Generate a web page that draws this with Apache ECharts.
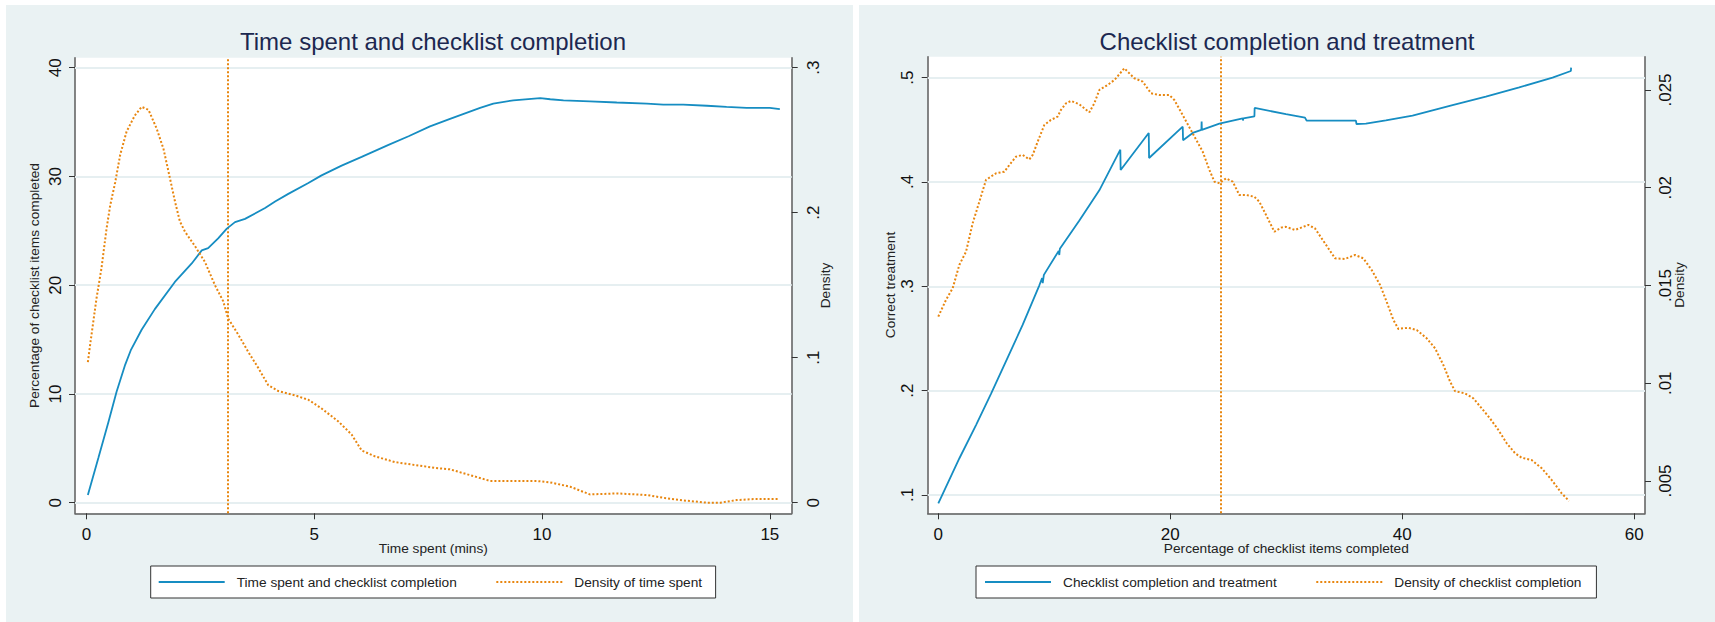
<!DOCTYPE html>
<html>
<head>
<meta charset="utf-8">
<script src="https://cdn.jsdelivr.net/npm/echarts@6.0.0/dist/echarts.min.js"></script>
<style>
html,body{margin:0;padding:0;background:#fff;}
#c{width:1715px;height:622px;}
</style>
</head>
<body>
<div id="c"></div>
<script>
// ---------- Data ----------
const leftTitle = 'Time spent and checklist completion';
const rightTitle = 'Checklist completion and treatment';
const leftXName = 'Time spent (mins)';
const leftYName = 'Percentage of checklist items completed';
const leftY2Name = 'Density';
const rightXName = 'Percentage of checklist items completed';
const rightYName = 'Correct treatment';
const rightY2Name = 'Density';
const seriesNames = ['Time spent and checklist completion', 'Density of time spent',
                     'Checklist completion and treatment', 'Density of checklist completion'];

// Left panel: time spent vs checklist completion (%)
const timeX = [0.03,0.26,0.48,0.66,0.85,0.97,1.21,1.50,1.94,2.31,2.53,2.67,2.89,3.08,3.26,3.48,3.92,4.14,4.43,4.87,5.16,5.60,6.04,6.63,7.07,7.54,7.98,8.64,8.93,9.37,9.96,10.18,10.47,11.05,11.64,12.30,12.66,13.10,13.62,14.05,14.49,15.0,15.22];
const completionPct = [0.7,4.1,7.4,10.2,12.7,14.0,15.9,17.8,20.3,22.0,23.2,23.4,24.3,25.2,25.8,26.1,27.1,27.7,28.4,29.4,30.1,31.0,31.8,32.9,33.7,34.6,35.3,36.3,36.7,37.0,37.2,37.1,37.0,36.9,36.8,36.7,36.6,36.6,36.5,36.4,36.3,36.3,36.2];
// Left panel: density of time spent
const densTimeX = [0.03,0.08,0.15,0.22,0.33,0.44,0.52,0.63,0.74,0.88,1.06,1.21,1.36,1.54,1.69,1.83,1.94,2.05,2.16,2.38,2.60,2.82,3.00,3.11,3.33,3.55,3.77,3.99,4.21,4.58,4.87,5.16,5.53,5.82,6.04,6.33,6.77,7.21,7.65,7.98,8.42,8.86,9.37,9.88,10.18,10.62,11.05,11.64,12.30,12.66,13.10,13.62,13.91,14.27,14.64,15.19];
const densTimeY = [0.097,0.109,0.125,0.141,0.162,0.189,0.205,0.221,0.240,0.256,0.267,0.273,0.271,0.258,0.244,0.224,0.208,0.194,0.187,0.177,0.166,0.150,0.139,0.127,0.116,0.104,0.093,0.081,0.077,0.074,0.071,0.065,0.056,0.047,0.036,0.032,0.028,0.026,0.024,0.023,0.019,0.015,0.015,0.015,0.014,0.011,0.0057,0.0064,0.0053,0.0034,0.0016,0.0,0.0,0.0018,0.0025,0.0025];
const timeMarker = [3.1];

// Right panel: checklist completion vs correct treatment
const complX = [0,1.81,3.25,4.54,5.83,7.27,8.71,8.95,9.0,9.1,10.38,10.43,10.48,12.16,13.88,15.69,15.72,18.14,18.17,21.07,21.10,21.93,22.68,22.70,22.72,24.23,26.24,26.26,26.30,27.25,27.27,29.97,31.61,31.75,36.0,36.05,36.86,38.58,40.88,44.33,47.2,50.08,52.95,54.53,54.55];
const correctTreat = [0.092,0.135,0.167,0.197,0.228,0.263,0.301,0.308,0.303,0.311,0.334,0.330,0.336,0.363,0.392,0.431,0.4115,0.447,0.423,0.453,0.440,0.447,0.450,0.458,0.450,0.456,0.461,0.459,0.461,0.463,0.471,0.465,0.4617,0.4588,0.4588,0.4556,0.456,0.459,0.4636,0.4738,0.4818,0.4907,0.5,0.5064,0.5096];
// Right panel: density of checklist completion
const densComplX = [0,0.66,1.24,1.81,2.39,2.96,3.54,4.11,4.54,4.98,5.69,6.12,6.70,7.27,7.85,8.14,8.57,9.14,9.71,10.29,10.57,11.01,11.44,12.16,13.02,13.45,13.88,14.6,15.18,16.04,16.90,17.62,18.34,19.06,19.92,20.35,21.07,21.93,22.79,23.37,23.8,24.24,24.80,25.38,25.95,26.53,27.24,27.67,28.25,28.97,29.54,29.97,30.75,31.90,32.47,33.33,34.20,35.06,35.92,36.64,37.36,38.08,38.65,39.23,39.66,40.52,41.24,42.10,42.82,43.54,44.12,44.54,45.40,46.12,46.84,47.56,48.28,49.0,49.72,50.29,51.15,52.02,52.88,53.74,54.37];
const densComplY = [0.01341,0.01426,0.01486,0.01605,0.01673,0.01818,0.01929,0.0204,0.02057,0.02074,0.02082,0.02116,0.02159,0.02168,0.02145,0.02168,0.02236,0.02321,0.02347,0.02364,0.02398,0.02432,0.02444,0.02427,0.02386,0.02432,0.025,0.02526,0.02551,0.02611,0.0256,0.02543,0.02483,0.02474,0.02474,0.02449,0.02372,0.02278,0.02185,0.02091,0.02031,0.02023,0.02048,0.02031,0.01963,0.01963,0.01954,0.01929,0.01861,0.01775,0.01796,0.018,0.01784,0.0181,0.01792,0.01716,0.01639,0.01636,0.01656,0.01639,0.01579,0.01503,0.01417,0.01324,0.01278,0.01284,0.01272,0.0123,0.01179,0.01093,0.01008,0.0096,0.00948,0.00923,0.00872,0.0082,0.00761,0.00693,0.00642,0.00619,0.00607,0.00565,0.00505,0.00437,0.00398];
const complMarker = [24.31];

// Ticks and tick labels
const leftXTicks = [0,5,10,15];            const leftXLabels = ['0','5','10','15'];
const leftYTicks = [0,10,20,30,40];        const leftYLabels = ['0','10','20','30','40'];
const leftY2Ticks = [0,0.1,0.2,0.3];       const leftY2Labels = ['0','.1','.2','.3'];
const rightXTicks = [0,20,40,60];          const rightXLabels = ['0','20','40','60'];
const rightYTicks = [0.1,0.2,0.3,0.4,0.5]; const rightYLabels = ['.1','.2','.3','.4','.5'];
const rightY2Ticks = [0.005,0.01,0.015,0.02,0.025]; const rightY2Labels = ['.005','.01','.015','.02','.025'];

// ---------- Styling ----------
const FONT = '"Liberation Sans", Arial, sans-serif';
const BLUE = '#168DC2';
const ORANGE = '#E8860F';
const AXIS = '#5c5c5c';
const GRIDC = '#E6EFF1';
const PANEL = '#EAF2F3';

const zip = (a, b) => a.map((v, i) => [v, b[i]]);
const fmt = (ticks, labels) => (v) => {
  const i = ticks.findIndex(t => Math.abs(t - v) < 1e-9);
  return i >= 0 ? labels[i] : '';
};

function xAxisCfg(grid, min, max, ticks, labels, name) {
  return {
    type: 'value', gridIndex: grid, min: min, max: max,
    name: name, nameLocation: 'middle', nameGap: 29.2, nameMoveOverlap: false,
    nameTextStyle: {fontFamily: FONT, fontSize: 13.7, lineHeight: 12, color: '#222'},
    axisLine: {show: true, onZero: false, lineStyle: {color: AXIS, width: 1.5}},
    axisTick: {show: true, customValues: ticks, length: 6, lineStyle: {color: '#333', width: 1}},
    axisLabel: {show: true, customValues: ticks, formatter: fmt(ticks, labels), margin: 15,
                fontFamily: FONT, fontSize: 17, lineHeight: 13, color: '#111'},
    splitLine: {show: false}
  };
}
function yAxisCfg(grid, pos, min, max, ticks, labels, name, margin, gap) {
  return {
    type: 'value', gridIndex: grid, position: pos, min: min, max: max,
    name: name, nameLocation: 'middle', nameRotate: 90, nameGap: gap, nameMoveOverlap: false,
    nameTextStyle: {fontFamily: FONT, fontSize: 13.7, color: '#222'},
    axisLine: {show: true, onZero: false, lineStyle: {color: AXIS, width: 1.5}},
    axisTick: {show: true, customValues: ticks, length: 6, lineStyle: {color: '#333', width: 1}},
    axisLabel: {show: true, customValues: ticks, formatter: fmt(ticks, labels), rotate: 90, margin: margin,
                fontFamily: FONT, fontSize: 17, color: '#111'},
    splitLine: {show: false}
  };
}
function gridLines(xi, yi, ticks) {
  return {
    type: 'line', xAxisIndex: xi, yAxisIndex: yi, data: [], silent: true, z: 1,
    showSymbol: false, lineStyle: {opacity: 0},
    markLine: {silent: true, symbol: 'none', z: 1, animation: false,
      label: {show: false}, emphasis: {disabled: true},
      lineStyle: {color: GRIDC, width: 2, type: 'solid'},
      data: ticks.map(v => ({yAxis: v}))}
  };
}
function solidSeries(name, xi, yi, data) {
  return {type: 'line', name: name, xAxisIndex: xi, yAxisIndex: yi, data: data, z: 3,
    symbol: 'none', showSymbol: false, smooth: false, silent: true, animation: false,
    lineStyle: {color: BLUE, width: 1.8, type: 'solid'}, itemStyle: {color: BLUE}};
}
function dottedSeries(name, xi, yi, data, marker) {
  return {type: 'line', name: name, xAxisIndex: xi, yAxisIndex: yi, data: data, z: 3,
    symbol: 'none', showSymbol: false, smooth: false, silent: true, animation: false,
    lineStyle: {color: ORANGE, width: 2, type: [2, 2]}, itemStyle: {color: ORANGE},
    markLine: {silent: true, symbol: 'none', z: 3, animation: false,
      label: {show: false}, emphasis: {disabled: true},
      lineStyle: {color: ORANGE, width: 2, type: [2, 2]},
      data: marker.map(v => ({xAxis: v}))}};
}
function legendCfg(left, names, pad) {
  return {
    left: left, top: 566, orient: 'horizontal', data: names, selectedMode: false,
    padding: pad, itemWidth: 66, itemHeight: 14, itemGap: 38.5,
    backgroundColor: '#fff', borderColor: '#333', borderWidth: 1, borderRadius: 0,
    itemStyle: {color: 'rgba(0,0,0,0)', borderWidth: 0, borderColor: 'rgba(0,0,0,0)'},
    textStyle: {fontFamily: FONT, fontSize: 13.7, color: '#222', padding: [0, 0, 0, 7]}
  };
}

const chart = echarts.init(document.getElementById('c'), null, {renderer: 'svg', width: 1715, height: 622});
chart.setOption({
  backgroundColor: '#fff',
  animation: false,
  textStyle: {fontFamily: FONT},
  graphic: {elements: [
    {type: 'rect', z: -10, silent: true, shape: {x: 6, y: 5, width: 847, height: 617}, style: {fill: PANEL}},
    {type: 'rect', z: -10, silent: true, shape: {x: 859, y: 5, width: 856, height: 617}, style: {fill: PANEL}}
  ]},
  title: [
    {text: leftTitle, left: 433, top: 29, textAlign: 'center', padding: 0,
     textStyle: {fontFamily: FONT, fontSize: 24, fontWeight: 'normal', color: '#1c2850'}},
    {text: rightTitle, left: 1287, top: 29, textAlign: 'center', padding: 0,
     textStyle: {fontFamily: FONT, fontSize: 24, fontWeight: 'normal', color: '#1c2850'}}
  ],
  grid: [
    {left: 75, top: 57.7, width: 716.7, height: 455.6, show: true, backgroundColor: '#fff', borderWidth: 0,
     containLabel: false, outerBoundsMode: 'none'},
    {left: 927.7, top: 56.7, width: 717.3, height: 456.6, show: true, backgroundColor: '#fff', borderWidth: 0,
     containLabel: false, outerBoundsMode: 'none'}
  ],
  xAxis: [
    xAxisCfg(0, -0.2525, 15.48, leftXTicks, leftXLabels, leftXName),
    xAxisCfg(1, -0.914, 60.92, rightXTicks, rightXLabels, rightXName)
  ],
  yAxis: [
    yAxisCfg(0, 'left', -0.975, 40.92, leftYTicks, leftYLabels, leftYName, 10.7, 33.5),
    yAxisCfg(0, 'right', -0.0073125, 0.3069, leftY2Ticks, leftY2Labels, leftY2Name, 12.8, 26.5),
    yAxisCfg(1, 'left', 0.08246, 0.5201, rightYTicks, rightYLabels, rightYName, 12, 30.6),
    yAxisCfg(1, 'right', 0.003348, 0.026703, rightY2Ticks, rightY2Labels, rightY2Name, 11.7, 27.2)
  ],
  legend: [
    legendCfg(150.7, [seriesNames[0], seriesNames[1]], [9, 13.5, 9, 7]),
    legendCfg(976, [seriesNames[2], seriesNames[3]], [9, 15, 9, 8])
  ],
  series: [
    gridLines(0, 0, leftYTicks),
    solidSeries(seriesNames[0], 0, 0, zip(timeX, completionPct)),
    dottedSeries(seriesNames[1], 0, 1, zip(densTimeX, densTimeY), timeMarker),
    gridLines(1, 2, rightYTicks),
    solidSeries(seriesNames[2], 1, 2, zip(complX, correctTreat)),
    dottedSeries(seriesNames[3], 1, 3, zip(densComplX, densComplY), complMarker)
  ]
});
</script>
</body>
</html>
